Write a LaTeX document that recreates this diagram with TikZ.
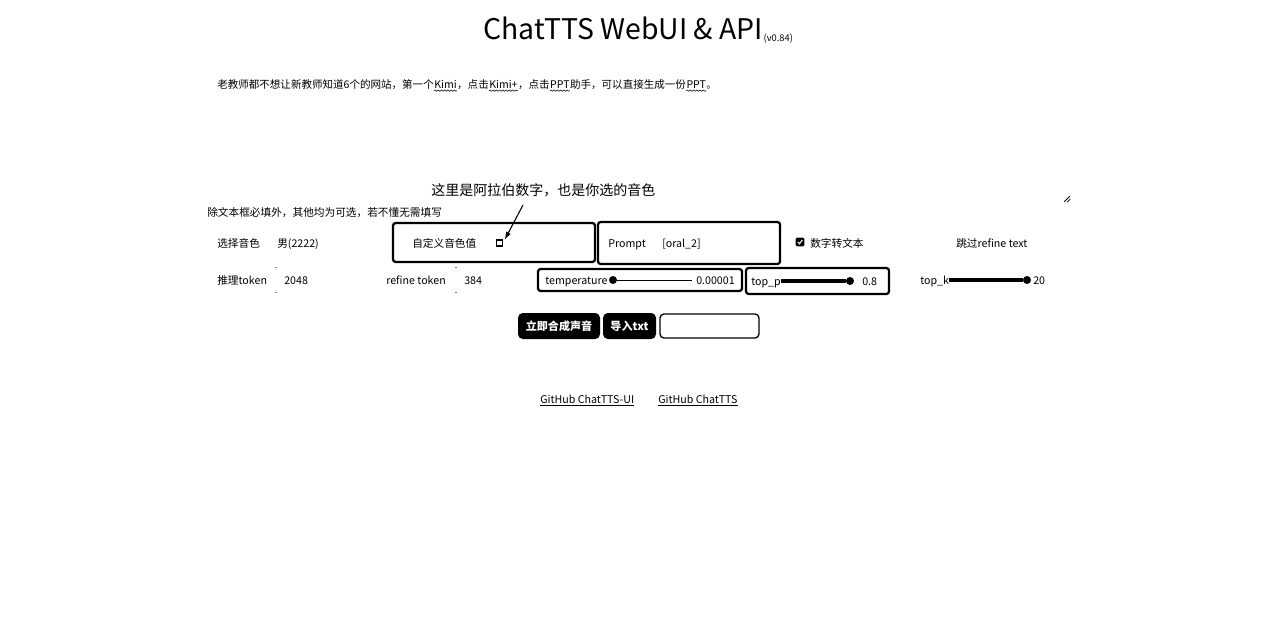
\documentclass[tikz,border=0pt]{standalone}
\usepackage{fontspec}
\setmainfont{Noto Sans CJK SC}
\usetikzlibrary{decorations.pathmorphing,arrows.meta}
\begin{document}
\begin{tikzpicture}[x=0.75pt,y=-0.75pt,
  txt/.style={inner sep=0,anchor=west,text height=7.6pt,text depth=1.4pt,font=\fontsize{8}{10}\selectfont},
  seg/.style={inner sep=0,anchor=base west,font=\fontsize{7.9}{10}\selectfont},
  boxf/.style={draw,line width=1.7pt,rounded corners=2pt,inner sep=0},
  squig/.style={decorate,decoration={snake,amplitude=0.5pt,segment length=2.4pt},line width=0.4pt},
  btn/.style={draw,line width=1.5pt,rounded corners=3pt,minimum height=18pt,inner sep=0,font=\fontsize{8.3}{10}\selectfont\bfseries},
  knob/.style={circle,fill=black,inner sep=0,minimum size=6pt}]
\useasboundingbox[fill=white] (0,0) rectangle (1280,624);

% title
\node[inner sep=0,anchor=base west,font=\fontsize{21.3}{24}\selectfont] (title) at (483,40) {ChatTTS WebUI \& API};
\node[inner sep=0,anchor=base west,font=\fontsize{7}{8}\selectfont,yshift=-1.5pt] (ver) at (title.base east) {(v0.84)};

% intro text
\node[seg] (i1) at (217,88.5) {老教师都不想让新教师知道6个的网站，第一个};
\node[seg] (i2) at (i1.base east) {Kimi};
\node[seg] (i3) at (i2.base east) {，点击};
\node[seg] (i4) at (i3.base east) {Kimi+};
\node[seg] (i5) at (i4.base east) {，点击};
\node[seg] (i6) at (i5.base east) {PPT};
\node[seg] (i7) at (i6.base east) {助手，可以直接生成一份};
\node[seg] (i8) at (i7.base east) {PPT};
\node[seg] (i9) at (i8.base east) {。};
\foreach \n in {i2,i4,i6,i8}{
  \draw[squig] ([yshift=-1.6pt]\n.base west) -- ([yshift=-1.6pt]\n.base east);
}

% textarea resize grip
\coordinate (grip) at (1067,199);
\draw[line width=0.6pt] ([xshift=-2pt,yshift=-2pt]grip) -- ([xshift=2pt,yshift=2pt]grip);
\draw[line width=0.6pt] ([xshift=0pt,yshift=-2.5pt]grip) -- ([xshift=2.5pt,yshift=0pt]grip);

% annotation
\node[inner sep=0,anchor=west,font=\fontsize{10.5}{12}\selectfont] (note) at (431,190) {这里是阿拉伯数字，也是你选的音色};
\node[txt] (hint) at (207,212) {除文本框必填外，其他均为可选，若不懂无需填写};

% row 1
\node[txt] (voicelbl) at (217,243) {选择音色};
\node[txt] (voiceval) at (277,243) {男(2222)};
\node[boxf,minimum width=151.5pt,minimum height=29.25pt] (box1) at (494,242.5) {};
\node[txt] (custom) at (412,243) {自定义音色值};
\node[draw,line width=1.2pt,inner sep=0,minimum size=4.5pt] (sq) at (499.5,243) {};
\coordinate (arrtail) at (523,205);
\draw[line width=0.8pt,-{Latex[length=6pt,width=4pt]}] (arrtail) -- ([xshift=1pt,yshift=-0.5pt]sq.north east);
\node[boxf,minimum width=136.5pt,minimum height=31.5pt] (box2) at (689,243) {};
\node[txt] (prompt) at (608,243) {Prompt};
\node[txt] (promptval) at (662,243) {[oral\_2]};
\node[fill=black,rounded corners=1pt,inner sep=0,minimum size=6.5pt] (cb) at (800,242) {};
\draw[white,line width=0.8pt] ([xshift=-1.6pt]cb.center) -- ([xshift=-0.4pt,yshift=-1.3pt]cb.center) -- ([xshift=1.8pt,yshift=1.5pt]cb.center);
\node[txt] (num2txt) at (810,243) {数字转文本};
\node[txt] (skip) at (956,243) {跳过refine text};

% row 2
\node[txt] (infer) at (217,280) {推理token};
\node[txt] (inferval) at (284,280) {2048};
\node[txt] (refine) at (386,280) {refine token};
\node[txt] (refineval) at (464,280) {384};
\foreach \xx in {276,456}{
  \fill (\xx,267.5) circle (0.5pt);
  \fill (\xx,292.5) circle (0.5pt);
}
\node[boxf,minimum width=153pt,minimum height=16.5pt] (tbox) at (640,280) {};
\node[txt] (temp) at (545,280) {temperature};
\node[knob] (tknob) at (613,280) {};
\coordinate (tend) at (692,280);
\draw[line width=0.6pt] (tknob) -- (tend);
\node[txt,anchor=east] (tval) at (735,280) {0.00001};
\node[boxf,minimum width=107.25pt,minimum height=19.5pt] (pbox) at (817.5,281) {};
\node[txt] (topp) at (751,281) {top\_p};
\node[knob] (pknob) at (850,281) {};
\draw[line width=2.4pt] (topp.east) -- (pknob);
\node[txt] (pval) at (862,281) {0.8};
\node[txt] (topk) at (920,280) {top\_k};
\node[knob] (kknob) at (1027,280) {};
\draw[line width=2.4pt] (topk.east) -- (kknob);
\node[txt] (kval) at (1033,280) {20};

% buttons
\node[btn,fill=black,text=white,minimum width=60pt] (b1) at (559,326) {立即合成声音};
\node[btn,fill=black,text=white,minimum width=38.25pt] (b2) at (629.5,326) {导入txt};
\node[btn,line width=1pt,minimum width=74.25pt] (b3) at (709.5,326) {};

% links
\node[txt] (l1) at (540,399) {GitHub ChatTTS-UI};
\node[txt] (l2) at (658,399) {GitHub ChatTTS};
\draw[line width=0.5pt] ([yshift=-1.5pt]l1.base west) -- ([yshift=-1.5pt]l1.base east);
\draw[line width=0.5pt] ([yshift=-1.5pt]l2.base west) -- ([yshift=-1.5pt]l2.base east);
\end{tikzpicture}
\end{document}
